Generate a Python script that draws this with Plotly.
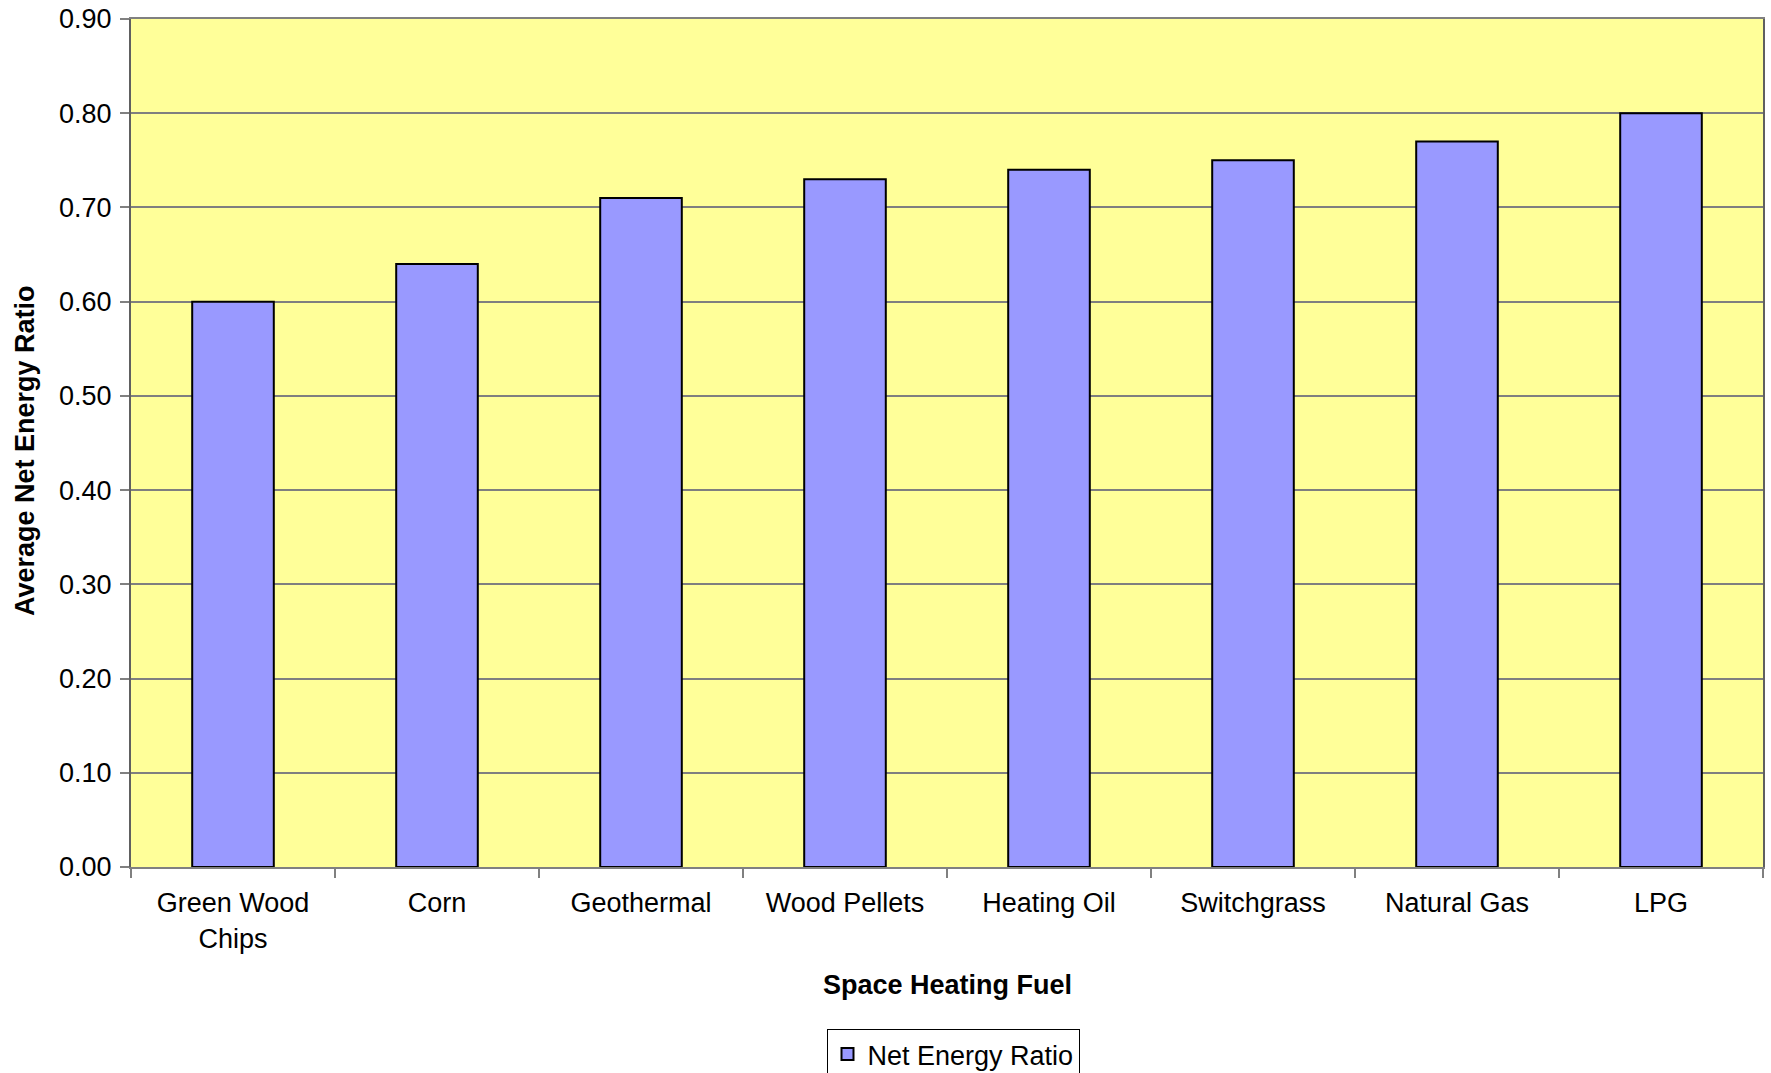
import plotly.graph_objects as go

# Space heating fuels and their average net energy ratios
fuels = ["Green Wood<br>Chips", "Corn", "Geothermal", "Wood Pellets",
         "Heating Oil", "Switchgrass", "Natural Gas", "LPG"]
net_energy_ratio = [0.60, 0.64, 0.71, 0.73, 0.74, 0.75, 0.77, 0.80]
y_ticks = [0.0, 0.1, 0.2, 0.3, 0.4, 0.5, 0.6, 0.7, 0.8, 0.9]

W, H = 1771, 1073
L, R, T, B = 131, 8, 19, 206
plot_h = H - T - B
plot_w = W - L - R

FONT = "Arial, Liberation Sans, sans-serif"
FS = 27

fig = go.Figure()
fig.add_trace(go.Bar(
    x=fuels,
    y=net_energy_ratio,
    name="Net Energy Ratio",
    marker=dict(color="#9999FF", line=dict(color="#000000", width=2)),
))

fig.update_layout(
    width=W, height=H,
    margin=dict(l=L, r=R, t=T, b=B, autoexpand=False),
    paper_bgcolor="white",
    plot_bgcolor="#FFFF99",
    bargap=0.6,
    font=dict(family=FONT, size=FS, color="black"),
    showlegend=True,
    legend=dict(
        orientation="h",
        xref="container", yref="container",
        x=953 / W, xanchor="center",
        y=1 - 1029 / H, yanchor="top",
        bordercolor="#000000", borderwidth=1,
        font=dict(family=FONT, size=FS, color="black"),
        bgcolor="white",
    ),
    xaxis=dict(
        automargin=False,
        showline=True, linecolor="#808080", linewidth=2, mirror=True,
        ticks="outside", tickson="boundaries", ticklen=9, tickcolor="#808080",
        tickwidth=1.5, ticklabelstandoff=11,
        tickfont=dict(family=FONT, size=FS, color="black"),
        showgrid=False,
    ),
    yaxis=dict(
        automargin=False,
        range=[0, 0.9],
        tickvals=y_ticks,
        ticktext=[f"{v:.2f}" for v in y_ticks],
        showline=True, linecolor="#606060", linewidth=2, mirror=True,
        ticks="outside", ticklen=9, tickcolor="#808080", tickwidth=1.5,
        ticklabelstandoff=3,
        tickfont=dict(family=FONT, size=FS, color="black"),
        showgrid=True, gridcolor="#7F7F7F", gridwidth=1.5,
        zeroline=False,
    ),
    annotations=[
        dict(text="<b>Space Heating Fuel</b>", xref="paper", yref="paper",
             x=0.5, y=-(985 - (H - B)) / plot_h, xanchor="center", yanchor="middle",
             showarrow=False, font=dict(family=FONT, size=FS, color="black")),
        dict(text="<b>Average Net Energy Ratio</b>", xref="paper", yref="paper",
             x=(25 - L) / plot_w, y=((H - B) - 451) / plot_h,
             xanchor="center", yanchor="middle",
             textangle=-90, showarrow=False,
             font=dict(family=FONT, size=FS, color="black")),
    ],
)

fig.write_html("out.html")
